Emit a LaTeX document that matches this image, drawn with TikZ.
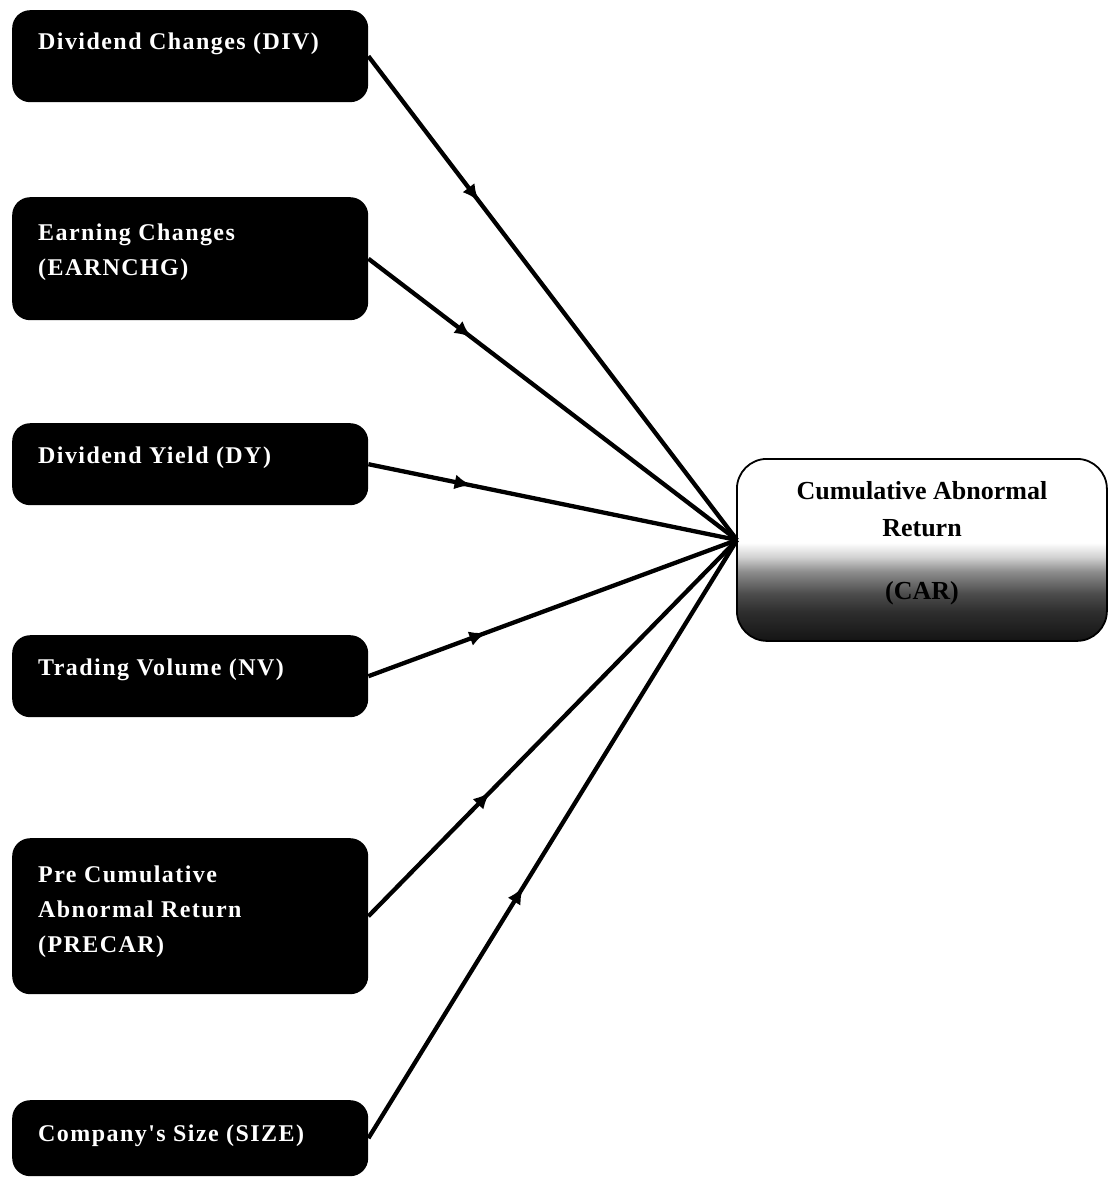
\documentclass[tikz,border=0pt]{standalone}
\usepackage{fontspec}
\setmainfont{Liberation Serif}
\newfontfamily\lblfont[LetterSpace=6]{Liberation Serif}
\usetikzlibrary{arrows.meta,decorations.markings,calc}
\pgfdeclareverticalshading{carshade}{100bp}{color(0bp)=(black!92); color(25bp)=(black!92); color(33bp)=(black!82); color(38bp)=(black!70); color(44bp)=(black!45); color(48bp)=(black!18); color(52bp)=(white); color(100bp)=(white)}
\begin{document}
\begin{tikzpicture}[x=1pt,y=-1pt,
  srcbox/.style={fill=black, rounded corners=18pt, minimum width=356pt, anchor=north west, inner sep=0pt},
  lbl/.style={anchor=base west, text=white, align=left, inner sep=0pt, font=\lblfont\bfseries\fontsize{24}{35}\selectfont},
  conn/.style={line width=4.3pt, postaction={decorate}, decoration={markings, mark=at position #1 with {\arrow{Latex[length=17pt,width=15pt]}}}}
]
\useasboundingbox (0,0) rectangle (1108,1178);
% source boxes
\node[srcbox, minimum height=92pt] (div) at (12,10) {};
\node[lbl] (divt) at ($(div.north west)+(26,39)$) {Dividend Changes (DIV)};
\node[srcbox, minimum height=123pt] (earn) at (12,197) {};
\node[lbl] (earnt) at ($(earn.north west)+(26,78)$) {Earning Changes\\(EARNCHG)};
\node[srcbox, minimum height=82pt] (dy) at (12,423) {};
\node[lbl] (dyt) at ($(dy.north west)+(26,40)$) {Dividend Yield (DY)};
\node[srcbox, minimum height=82pt] (nv) at (12,635) {};
\node[lbl] (nvt) at ($(nv.north west)+(26,40)$) {Trading Volume (NV)};
\node[srcbox, minimum height=156pt] (pre) at (12,838) {};
\node[lbl] (pret) at ($(pre.north west)+(26,114)$) {Pre Cumulative\\Abnormal Return\\(PRECAR)};
\node[srcbox, minimum height=76pt] (size) at (12,1100) {};
\node[lbl] (sizet) at ($(size.north west)+(26,41)$) {Company's Size (SIZE)};
% target box
\node[draw=black, line width=1.8pt, rounded corners=30pt, shading=carshade, minimum width=370pt, minimum height=182pt, anchor=north west, inner sep=0pt] (car) at (736,458) {};
\node[align=center, inner sep=0pt, font=\bfseries\fontsize{26}{37}\selectfont] (cart) at (922,543) {Cumulative Abnormal\\Return\\[26pt](CAR)};
\coordinate (hub) at (737,540);
% connectors
\draw[conn=0.30] (div.east) -- (hub);
\draw[conn=0.28] (earn.east) -- (hub);
\draw[conn=0.28] (dy.east) -- (hub);
\draw[conn=0.32] (nv.east) -- (hub);
\draw[conn=0.33] (pre.east) -- (hub);
\draw[conn=0.42] (size.east) -- (hub);
\end{tikzpicture}
\end{document}
